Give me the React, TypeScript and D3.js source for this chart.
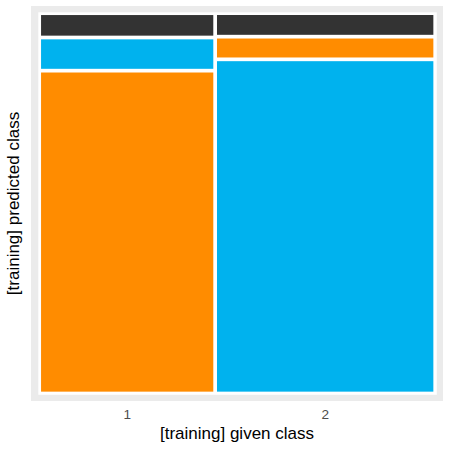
import React from "react";
import * as d3 from "d3";

const givenClasses = ["1", "2"];
const givenShares = [0.4443, 0.5557];
// per given class, stacked bottom-to-top
const stackCats = [
  ["1", "2", "NA"],
  ["2", "1", "NA"],
];
const stackShares = [
  [0.8489, 0.0872, 0.0639],
  [0.8787, 0.0596, 0.0618],
];
const colorKeys = ["1", "2", "NA"];
const colorValues = ["#FF8C00", "#00B2EE", "#333333"];

const W = 449;
const H = 449;

export default function App() {
  const x = d3.scaleLinear().domain([0, 1]).range([39.2, 435.2]);
  const y = d3.scaleLinear().domain([0, 1]).range([393.5, 13.2]);
  const color = d3.scaleOrdinal<string, string>().domain(colorKeys).range(colorValues);
  const inset = 1.85;

  const xStarts = d3.cumsum([0, ...givenShares.slice(0, -1)]);
  const tiles: { key: string; x0: number; x1: number; y0: number; y1: number; fill: string }[] = [];
  givenClasses.forEach((g, i) => {
    const x0 = xStarts[i];
    const x1 = x0 + givenShares[i];
    const ys = d3.cumsum([0, ...stackShares[i].slice(0, -1)]);
    stackCats[i].forEach((c, j) => {
      tiles.push({
        key: g + "-" + c,
        x0: x(x0) + inset,
        x1: x(x1) - inset,
        y0: y(ys[j] + stackShares[i][j]) + inset,
        y1: y(ys[j]) - inset,
        fill: color(c),
      });
    });
  });

  const font = "Liberation Sans, Arial, Helvetica, sans-serif";

  return (
    <div style={{ position: "fixed", left: 0, top: 0 }}>
      <svg width={W} height={H} style={{ display: "block" }}>
        <rect x={0} y={0} width={W} height={H} fill="#FFFFFF" />
        <rect x={31} y={6} width={412} height={395} fill="#EBEBEB" />
        <rect x={38.3} y={12.3} width={398.5} height={382.5} fill="#FFFFFF" />
        {tiles.map((t) => (
          <rect key={t.key} x={t.x0} y={t.y0} width={t.x1 - t.x0} height={t.y1 - t.y0} fill={t.fill} />
        ))}
        {givenClasses.map((g, i) => (
          <text
            key={g}
            x={x(xStarts[i] + givenShares[i] / 2)}
            y={419}
            textAnchor="middle"
            fontFamily={font}
            fontSize={13.6}
            fill="#4D4D4D"
          >
            {g}
          </text>
        ))}
        <text x={237} y={438.5} textAnchor="middle" fontFamily={font} fontSize={17} fill="#000000">
          [training] given class
        </text>
        <text
          transform="translate(19.3,203.5) rotate(-90)"
          textAnchor="middle"
          fontFamily={font}
          fontSize={17}
          fill="#000000"
        >
          [training] predicted class
        </text>
      </svg>
    </div>
  );
}
